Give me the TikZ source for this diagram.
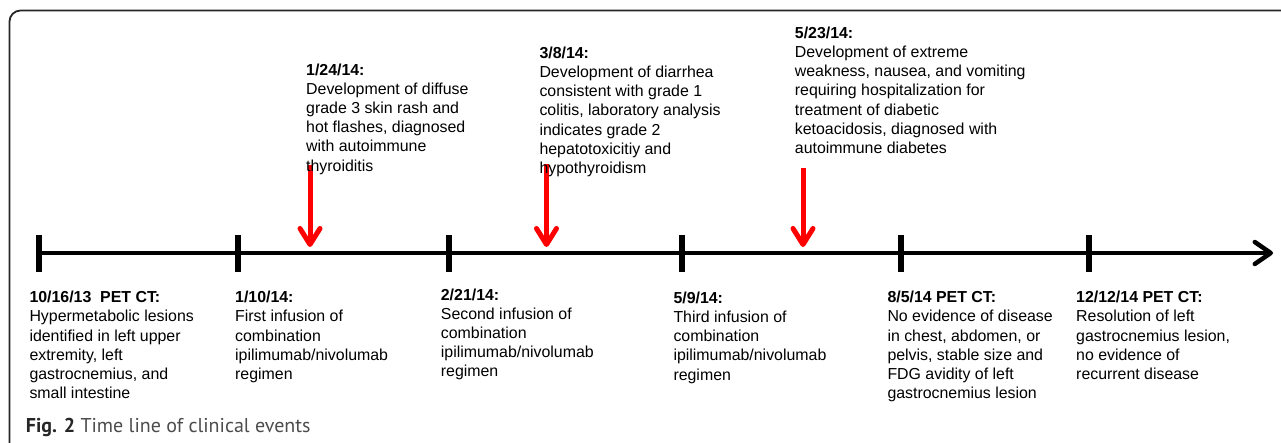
\documentclass[tikz,border=0pt]{standalone}
\usepackage{fontspec}
\setmainfont{Liberation Sans}
\newfontfamily\capfont{PT Sans}
\usetikzlibrary{arrows.meta}
\begin{document}
\begin{tikzpicture}[x=1pt,y=-1pt,
  lbl/.style={anchor=base west, inner sep=0pt, align=left, font=\fontsize{15.9}{19.2}\selectfont},
  tickmark/.style={line width=6pt},
  axis/.style={line width=4.5pt, -{Straight Barb[length=16pt,width=22pt,line cap=round,line join=round]}},
  event/.style={line width=5pt, red, -{Straight Barb[length=16pt,width=20pt,line cap=round,line join=round]}},
  frame/.style={line width=1.8pt, black!85, rounded corners=11pt}
]
\useasboundingbox (0,0) rectangle (1281,442);
\begin{scope}
  \clip (0,0) rectangle (1281,442);
  \draw[frame] (9.5,10.5) rectangle (1300,470);
\end{scope}

% timeline
\coordinate (t1) at (39,253);
\coordinate (t2) at (238,253);
\coordinate (t3) at (449,253);
\coordinate (t4) at (682,253);
\coordinate (t5) at (901,253);
\coordinate (t6) at (1089,253);
\coordinate (tend) at (1273,253);
\draw[axis] (t1) -- (tend);
\foreach \t in {t1,t2,t3,t4,t5,t6}
  \draw[tickmark] ([yshift=18pt]\t) -- ([yshift=-19pt]\t);

% red event arrows
\coordinate (a1s) at (310,165);  \coordinate (a1e) at (310,247);
\coordinate (a2s) at (546.5,164); \coordinate (a2e) at (546.5,247);
\coordinate (a3s) at (803,168);  \coordinate (a3e) at (803,247);
\draw[event] (a1s) -- (a1e);
\draw[event] (a2s) -- (a2e);
\draw[event] (a3s) -- (a3e);

% bottom labels (anchor = baseline of last line)
\node[lbl] (l1) at (29.3,398.7) {\textbf{10/16/13\ \ PET CT:}\\Hypermetabolic lesions\\identified in left upper\\extremity, left\\gastrocnemius, and\\small intestine};
\node[lbl] (l2) at (235,379.5) {\textbf{1/10/14:}\\First infusion of\\combination\\ipilimumab/nivolumab\\regimen};
\node[lbl] (l3) at (440.7,376.8) {\textbf{2/21/14:}\\Second infusion of\\combination\\ipilimumab/nivolumab\\regimen};
\node[lbl] (l4) at (673.3,380.1) {\textbf{5/9/14:}\\Third infusion of\\combination\\ipilimumab/nivolumab\\regimen};
\node[lbl] (l5) at (887.3,398.7) {\textbf{8/5/14 PET CT:}\\No evidence of disease\\in chest, abdomen, or\\pelvis, stable size and\\FDG\ avidity of left\\gastrocnemius lesion};
\node[lbl] (l6) at (1076,379.5) {\textbf{12/12/14 PET CT:}\\Resolution of left\\gastrocnemius lesion,\\no evidence of\\recurrent disease};

% top labels
\node[lbl] (u1) at (306,171) {\textbf{1/24/14:}\\Development of diffuse\\grade 3 skin rash and\\hot flashes, diagnosed\\with autoimmune\\thyroiditis};
\node[lbl] (u2) at (539.3,173.5) {\textbf{3/8/14:}\\Development of diarrhea\\consistent with grade 1\\colitis, laboratory analysis\\indicates grade 2\\hepatotoxicitiy and\\hypothyroidism};
\node[lbl] (u3) at (794.7,153.5) {\textbf{5/23/14:}\\Development of extreme\\weakness, nausea, and vomiting\\requiring hospitalization for\\treatment of diabetic\\ketoacidosis, diagnosed with\\autoimmune diabetes};

% caption
\node[anchor=base west, inner sep=0pt, font=\capfont\fontsize{20}{24}\selectfont] (cap) at (25.7,432.3)
  {\textcolor{black!85}{\textbf{Fig. 2}} \textcolor{black!70}{Time line of clinical events}};
\end{tikzpicture}
\end{document}
